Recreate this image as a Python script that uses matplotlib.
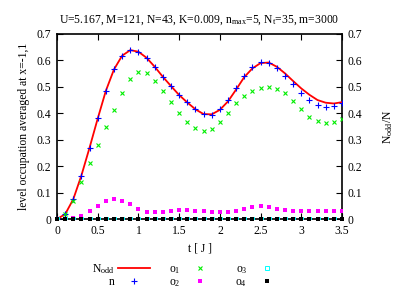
import numpy as np
import matplotlib
matplotlib.use('Agg')
import matplotlib.pyplot as plt
from matplotlib.lines import Line2D

FS = 8.4
plt.rcParams['font.family'] = 'Liberation Serif'
plt.rcParams['mathtext.fontset'] = 'custom'
plt.rcParams['mathtext.rm'] = 'Liberation Serif'
plt.rcParams['mathtext.it'] = 'Liberation Serif:italic'
plt.rcParams['font.size'] = FS

t = np.round(np.arange(0, 3.51, 0.1), 2)

# N_odd / N (red curve)
n_odd = [0.0, 0.018, 0.075, 0.165, 0.270, 0.380, 0.485, 0.566, 0.618, 0.639,
         0.633, 0.610, 0.576, 0.538, 0.503, 0.469, 0.441, 0.415, 0.397, 0.396,
         0.413, 0.445, 0.490, 0.537, 0.570, 0.590, 0.592, 0.576, 0.551, 0.522,
         0.494, 0.470, 0.450, 0.440, 0.437, 0.442]
# n (blue +)
n_pts = [0.0, 0.019, 0.077, 0.164, 0.270, 0.381, 0.485, 0.566, 0.618, 0.639,
         0.633, 0.610, 0.576, 0.538, 0.503, 0.469, 0.441, 0.415, 0.396, 0.395,
         0.415, 0.450, 0.497, 0.542, 0.576, 0.594, 0.591, 0.573, 0.541, 0.510,
         0.476, 0.450, 0.431, 0.423, 0.428, 0.440]
o1 = [0.0, 0.019, 0.069, 0.139, 0.211, 0.281, 0.347, 0.412, 0.478, 0.528,
      0.555, 0.552, 0.523, 0.484, 0.441, 0.402, 0.368, 0.343, 0.333, 0.341,
      0.368, 0.402, 0.438, 0.465, 0.484, 0.494, 0.499, 0.492, 0.476, 0.448,
      0.415, 0.387, 0.371, 0.362, 0.366, 0.377]
o2 = [0.0, 0.001, 0.003, 0.010, 0.029, 0.050, 0.068, 0.076, 0.069, 0.055,
      0.039, 0.028, 0.026, 0.028, 0.031, 0.033, 0.033, 0.031, 0.029, 0.027,
      0.025, 0.026, 0.030, 0.038, 0.045, 0.048, 0.045, 0.038, 0.033, 0.030,
      0.030, 0.030, 0.030, 0.030, 0.031, 0.031]
o3 = [0.001] * len(t)
o4 = [0.0] * len(t)

fig = plt.figure(figsize=(4.15, 2.91), dpi=100)
ax = fig.add_axes([57 / 415, 1 - 219 / 291, 285 / 415, 185 / 291])

ax.plot(t, n_odd, color='#ff0000', lw=1.3, zorder=3)
ax.plot(t, n_pts, ls='none', marker='+', ms=4.2, mew=0.8, color='#0000ff', zorder=4)
ax.plot(t, o1, ls='none', marker='x', ms=3.2, mew=0.8, color='#00ee00', zorder=4)
ax.plot(t, o2, ls='none', marker='s', ms=3.0, mew=0, color='#ff00ff', zorder=4)
ax.plot(t, o3, ls='none', marker='s', ms=3.0, mew=0.7, mfc='none', mec='#00ffff', zorder=4)
ax.plot(t, o4, ls='none', marker='s', ms=3.0, mew=0, color='black', zorder=5, clip_on=False)

ax.set_xlim(0, 3.5)
ax.set_ylim(0, 0.7)
ax.set_xticks(np.arange(0, 3.51, 0.5))
ax.set_yticks(np.arange(0, 0.71, 0.1))
ax.xaxis.set_major_formatter(plt.FormatStrFormatter('%g'))
ax.yaxis.set_major_formatter(plt.FormatStrFormatter('%g'))
ax.tick_params(direction='in', length=4, width=0.8, top=True, right=True,
               labelright=True, pad=4)
for s in ax.spines.values():
    s.set_linewidth(1.2)

ax.set_xlabel('t [ J ]', labelpad=4)
ax.set_ylabel('level occupation averaged at x=-1,1', labelpad=5)
ax.set_title(r'U=5.167, M=121, N=43, K=0.009, n$_{\mathrm{max}}$=5, N$_{\mathrm{t}}$=35, m=3000',
             fontsize=FS, pad=8)
fig.text(388 / 415, 1 - 127 / 291, r'N$_{\mathrm{odd}}$/N', rotation=90,
         ha='center', va='center', fontsize=FS)

handles = [
    Line2D([], [], color='#ff0000', lw=1.3),
    Line2D([], [], ls='none', marker='+', ms=4.0, mew=0.8, color='#0000ff'),
    Line2D([], [], ls='none', marker='x', ms=3.0, mew=0.8, color='#00ee00'),
    Line2D([], [], ls='none', marker='s', ms=3.0, mew=0, color='#ff00ff'),
    Line2D([], [], ls='none', marker='s', ms=3.0, mew=0.7, mfc='none', mec='#00ffff'),
    Line2D([], [], ls='none', marker='s', ms=3.0, mew=0, color='black'),
]
labels = [r'N$_{\mathrm{odd}}$', 'n', r'o$_1$', r'o$_2$', r'o$_3$', r'o$_4$']
ax.legend(handles, labels, ncol=3, markerfirst=False, frameon=False,
          loc='center', bbox_to_anchor=(187.5 / 415, 1 - 275.7 / 291),
          bbox_transform=fig.transFigure, borderpad=0, handlelength=2.8,
          handletextpad=0.3, columnspacing=1.6, labelspacing=0.05, fontsize=FS)

fig.savefig('out.png', dpi=100)
